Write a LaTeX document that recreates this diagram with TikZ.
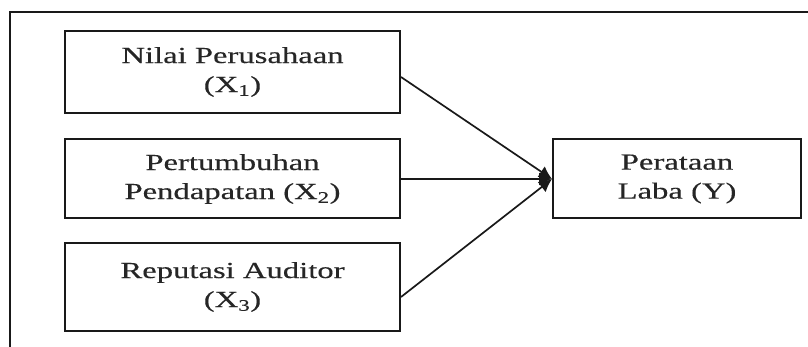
\documentclass[tikz,border=0pt]{standalone}
\usepackage{fontspec}
\setmainfont{Liberation Serif}[FakeStretch=1.42,FakeBold=0.3]
\usetikzlibrary{arrows.meta,calc}
\begin{document}
\begin{tikzpicture}[x=1pt,y=-1pt,
  box/.style={draw=black!90,line width=2pt,inner sep=0pt,align=center,
    font=\fontsize{23}{29}\selectfont,text=black!85},
  conn/.style={line width=1.7pt,draw=black!90,-{Latex[length=13pt,width=13pt]}}]
\useasboundingbox (0,0) rectangle (808,347);
\clip (0,0) rectangle (808,347);
\fill[white] (0,0) rectangle (808,347);
\draw[line width=2.2pt,black!90] (10,12) rectangle (830,370);
\node[box,minimum width=335pt,minimum height=82pt] (b1) at (232.5,72) {Nilai Perusahaan\\(X\textsubscript{1})};
\node[box,minimum width=335pt,minimum height=79pt] (b2) at (232.5,179) {Pertumbuhan\\Pendapatan (X\textsubscript{2})};
\node[box,minimum width=335pt,minimum height=88pt] (b3) at (232.5,287) {Reputasi Auditor\\(X\textsubscript{3})};
\node[box,minimum width=248pt,minimum height=79pt] (y) at (677,179) {Perataan\\Laba (Y)};
\draw[conn] ($(b1.east)+(0,5)$) -- (y.west);
\draw[conn] (b2.east) -- (y.west);
\draw[conn] ($(b3.east)+(0,10)$) -- (y.west);
\end{tikzpicture}
\end{document}
